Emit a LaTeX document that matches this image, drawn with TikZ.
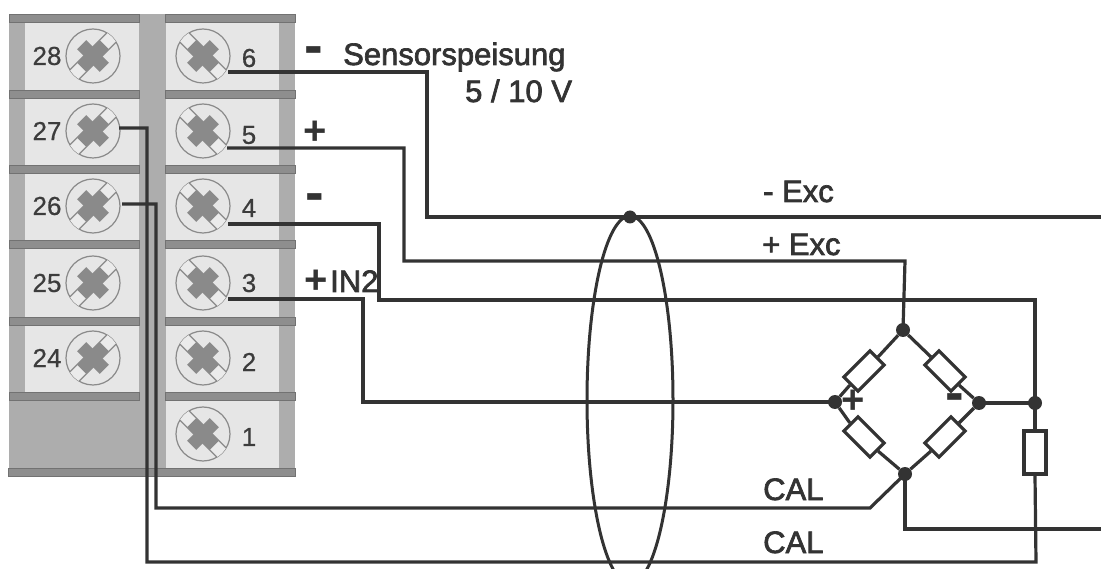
\documentclass[tikz,border=0pt]{standalone}
\usepackage{fontspec}
\usetikzlibrary{shapes.geometric}
\setmainfont{Liberation Sans}
\newfontfamily\labelfont[FakeBold=2.2]{Liberation Sans}
\newfontfamily\numfont[FakeBold=0.6]{Liberation Sans}
\newfontfamily\signfont{Liberation Sans Bold}
\definecolor{wirec}{HTML}{333333}
\definecolor{barc}{HTML}{8E8E8E}
\definecolor{colc}{HTML}{ADADAD}
\definecolor{cellc}{HTML}{E6E6E6}
\definecolor{xc}{HTML}{8A8A8A}
\definecolor{numc}{HTML}{3C3C3C}
\tikzset{
  wire/.style={draw=wirec,line width=3.2pt,line join=miter},
  dotn/.style={circle,fill=wirec,inner sep=0pt,minimum size=14pt},
  res/.style={rectangle,draw=wirec,line width=3.2pt,fill=white,minimum width=37pt,minimum height=20pt,inner sep=0pt},
  screw/.style={circle,draw=colc!80!black,line width=1.2pt,fill=cellc,minimum size=54pt,inner sep=0pt},
  num/.style={font=\numfont\fontsize{26}{26}\selectfont,text=numc,inner sep=0pt},
  txt/.style={font=\labelfont\fontsize{31}{31}\selectfont,text=wirec,inner sep=0pt,anchor=base west},
  plusn/.style={font=\signfont\fontsize{40}{40}\selectfont,text=wirec,inner sep=0pt},
  minusn/.style={font=\signfont\fontsize{56}{56}\selectfont,text=wirec,inner sep=0pt},
  bar/.style={fill=barc,draw=barc!80!black,line width=0.8pt},
}
\newcommand{\screwx}[2]{% name, angle
  \begin{scope}
    \clip (#1) circle (27);
    \begin{scope}[shift={(#1)},rotate=#2]
      \draw[fill=white!92!black,draw=colc!80!black,line width=1.2pt] (-30,-6.5) rectangle (30,6.5);
    \end{scope}
  \end{scope}
  \begin{scope}[shift={(#1)},rotate=#2]
    \fill[xc] (-16,-6.5) rectangle (16,6.5);
    \fill[xc] (-6.5,-16) rectangle (6.5,16);
  \end{scope}
}
\begin{document}
\begin{tikzpicture}[x=1pt,y=-1pt]
\useasboundingbox (0,0) rectangle (1101,569);
\fill[white] (0,0) rectangle (1101,569);
% block
\fill[colc] (9,14) rectangle (295,476);
\foreach \ya/\yb in {22/90,97/165,173/240,248/317,326/392}
  \fill[cellc] (25,\ya) rectangle (139,\yb);
\foreach \ya/\yb in {22/90,97/165,173/240,248/317,326/392,401/468}
  \fill[cellc] (166,\ya) rectangle (279,\yb);
\foreach \y in {14,90,165,240,317,392}{
  \draw[bar] (9,\y) rectangle (139,\y+8);
  \draw[bar] (165,\y) rectangle (295,\y+8);
}
\draw[bar] (8,468) rectangle (295,476);
% screws
\foreach \n/\y in {28/56,27/131,26/206,25/283,24/358}{
  \node[screw] (s\n) at (93,\y) {};
  \screwx{s\n}{45}
  \node[num] (t\n) at (47,\y) {\n};
}
\foreach \n/\y/\ty in {6/56/58,5/131/135,4/206/208,3/283/283,2/358/362,1/434/437}{
  \node[screw] (s\n) at (203,\y) {};
  \screwx{s\n}{-45}
  \node[num] (t\n) at (249,\ty) {\n};
}
% junctions
\node[dotn] (top) at (903,330) {};
\node[dotn] (lft) at (835,402) {};
\node[dotn] (rgt) at (979,403) {};
\node[dotn] (bot) at (905,474) {};
\node[dotn] (rj) at (1035,403) {};
\node[dotn,minimum size=13pt] (shield) at (630,217) {};
% free ends
\coordinate (e6) at (1101,217);
\coordinate (eb) at (1101,529);
\coordinate (w6) at (228,72);
\coordinate (w5) at (227,148);
\coordinate (w4) at (228,224);
\coordinate (w3) at (228,299);
\coordinate (w27) at (119,128);
\coordinate (w26) at (122,204);
% resistors
\node[res,rotate=45] (r1) at (864,371) {};
\node[res,rotate=-45] (r2) at (945,371) {};
\node[res,rotate=-45] (r3) at (864,437) {};
\node[res,rotate=45] (r4) at (945,437) {};
\node[rectangle,draw=wirec,line width=3.2pt,fill=white,minimum width=22pt,minimum height=43pt,inner sep=0pt] (r5) at (1035,452.5) {};
% wiring
\draw[wire] (w6) -- (427,72) |- (shield.center) -- (e6);
\draw[wire] (w5) -- (404,148) -- (404,261) -- (905,261) -- (top.center);
\draw[wire] (w4) -- (379,224) -- (379,300) -- (1035,300) -- (rj.center);
\draw[wire] (w3) -- (363,299) -- (363,402) -- (lft.center);
\draw[wire] (w27) -- (147,128) -- (147,562) -- (1036,562) -- (r5.south);
\draw[wire] (w26) -- (156,204) -- (156,508) -- (870,508) -- (bot.center);
\draw[wire] (bot.center) -- (905,529) -- (eb);
\draw[wire] (rgt.center) -- (rj.center);
\draw[wire] (rj.center) -- (r5.north);
\draw[wire] (top) -- (r1.east);
\draw[wire] (r1.west) -- (lft);
\draw[wire] (top) -- (r2.west);
\draw[wire] (r2.east) -- (rgt);
\draw[wire] (lft) -- (r3.west);
\draw[wire] (r3.east) -- (bot);
\draw[wire] (rgt) -- (r4.east);
\draw[wire] (r4.west) -- (bot);
% shield
\begin{scope}
  \clip (0,0) rectangle (1101,569);
  \node[ellipse,draw=wirec,line width=3pt,minimum width=86pt,minimum height=368pt,inner sep=0pt] (sh) at (630,400) {};
\end{scope}
% labels
\node[minusn] (m6) at (313.5,56) {-};
\node[plusn] (p5) at (315,133) {+};
\node[minusn] (m4) at (315,203) {-};
\node[plusn] (p3) at (316,282) {+};
\node[txt] (in2) at (330,292) {IN2};
\node[txt] (sens) at (343,65) {Sensorspeisung};
\node[txt] (volt) at (465,102) {5 / 10 V};
\node[txt] (mexc) at (763,202) {- Exc};
\node[txt] (pexc) at (762,255) {+ Exc};
\node[txt] (cal1) at (763,500) {CAL};
\node[txt] (cal2) at (763,553) {CAL};
\node[plusn] (bp) at (853.5,402) {+};
\node[minusn] (bm) at (954.5,403) {-};
\end{tikzpicture}
\end{document}
